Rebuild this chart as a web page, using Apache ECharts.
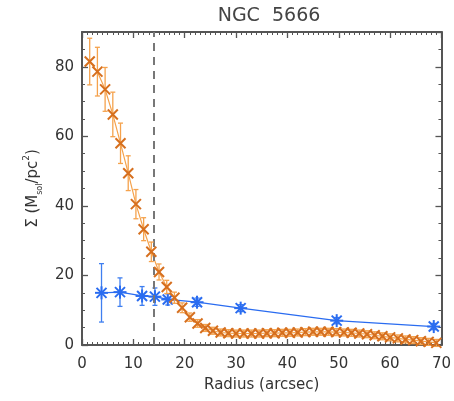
<!DOCTYPE html>
<html><head><meta charset="utf-8">
<script src="https://cdn.jsdelivr.net/npm/echarts@6/dist/echarts.min.js"></script>
<style>html,body{margin:0;padding:0;background:#fff}#c{width:454px;height:401px}</style>
</head><body><div id="c"></div>
<script>
const chartTitle = 'NGC  5666';
const xName = 'Radius (arcsec)';
const xMin = 0, xMax = 70, xMajor = 10, xMinor = 1;
const yMin = 0, yMax = 90, yMajor = 20, yMinor = 5;
const effectiveRadius = 14;

const orangeRadius = [1.5, 3, 4.5, 6, 7.5, 9, 10.5, 12, 13.5, 15, 16.5, 18, 19.5, 21, 22.5, 24, 25.5, 27, 28.5, 30,
  31.5, 33, 34.5, 36, 37.5, 39, 40.5, 42, 43.5, 45, 46.5, 48, 49.5, 51, 52.5, 54, 55.5, 57, 58.5, 60,
  61.5, 63, 64.5, 66, 67.5, 69];
const orangeSigma = [81.5, 78.6, 73.5, 66.3, 58.0, 49.4, 40.5, 33.3, 26.8, 21.0, 16.7, 13.6, 10.7, 8.0, 6.2, 4.9, 4.1, 3.6, 3.4, 3.3,
  3.3, 3.3, 3.3, 3.4, 3.4, 3.5, 3.5, 3.6, 3.7, 3.8, 3.8, 3.8, 3.7, 3.6, 3.5, 3.3, 3.1, 2.8, 2.5, 2.2,
  1.9, 1.6, 1.4, 1.1, 0.9, 0.6];
const orangeErr = [6.7, 7.0, 6.3, 6.4, 5.8, 5.0, 4.2, 3.3, 2.8, 2.3, 1.9, 1.6, 1.4, 1.2, 1.1, 1.0, 1.0, 1.0, 1.0, 1.0,
  1.0, 1.0, 1.0, 1.0, 1.0, 1.0, 1.0, 1.0, 1.0, 1.0, 1.0, 1.0, 1.0, 1.0, 1.0, 1.0, 1.0, 1.0, 1.0, 1.0,
  1.0, 1.0, 1.0, 1.0, 1.0, 1.0];

const blueRadius = [3.8, 7.4, 11.7, 14.2, 16.7, 22.4, 30.9, 49.6, 68.5];
const blueSigma  = [15.0, 15.2, 14.1, 13.9, 13.1, 12.3, 10.6, 7.0, 5.3];
const blueErr    = [8.4, 4.1, 2.7, 2.5, 1.6, 1.2, 1.0, 0.9, 0.9];

const orangeMark = '#D66F1E', orangeBar = '#F5A24C';
const blueMark = '#2A6CF0', blueBar = '#3F7FF0';
const axisColor = '#555';
const font = 'DejaVu Sans';

function zip3(a, b, c) { return a.map((v, i) => [v, b[i], c[i]]); }
function zip2(a, b) { return a.map((v, i) => [v, b[i]]); }

function makeRender(barColor, markColor, half, cap, star) {
  return function (params, api) {
    const x = api.value(0), y = api.value(1), e = api.value(2);
    const c = api.coord([x, y]), t = api.coord([x, y + e]), b = api.coord([x, y - e]);
    const ls = { stroke: barColor, lineWidth: 1.3, fill: null };
    const ms = { stroke: markColor, lineWidth: 2, fill: null };
    const ch = [
      { type: 'line', shape: { x1: c[0], y1: t[1], x2: c[0], y2: b[1] }, style: ls },
      { type: 'line', shape: { x1: c[0] - cap, y1: t[1], x2: c[0] + cap, y2: t[1] }, style: ls },
      { type: 'line', shape: { x1: c[0] - cap, y1: b[1], x2: c[0] + cap, y2: b[1] }, style: ls },
      { type: 'line', shape: { x1: c[0] - half, y1: c[1] - half, x2: c[0] + half, y2: c[1] + half }, style: ms },
      { type: 'line', shape: { x1: c[0] - half, y1: c[1] + half, x2: c[0] + half, y2: c[1] - half }, style: ms }
    ];
    if (star) {
      ch.push({ type: 'line', shape: { x1: c[0] - half * 1.3, y1: c[1], x2: c[0] + half * 1.3, y2: c[1] }, style: ms });
      ch.push({ type: 'line', shape: { x1: c[0], y1: c[1] - half * 1.3, x2: c[0], y2: c[1] + half * 1.3 }, style: ms });
    }
    return { type: 'group', children: ch };
  };
}

function xAxisDef(pos, labels, name) {
  return {
    type: 'value', position: pos, min: xMin, max: xMax, interval: xMajor,
    name: name, nameLocation: 'middle', nameGap: 33,
    nameTextStyle: { fontFamily: font, fontSize: 15, color: '#333' },
    axisLine: { show: true, onZero: false, lineStyle: { color: axisColor, width: 2 } },
    axisTick: { show: true, inside: true, length: 6, lineStyle: { color: axisColor, width: 1.3 } },
    minorTick: { show: true, splitNumber: xMajor / xMinor, length: 3, lineStyle: { color: axisColor, width: 1 } },
    axisLabel: { show: labels, fontFamily: font, fontSize: 15, color: '#333', margin: 12 },
    splitLine: { show: false }
  };
}
function yAxisDef(pos, step, tickLen, labels, line, name) {
  return {
    type: 'value', position: pos, min: yMin, max: yMax, interval: step,
    name: name || '', nameLocation: 'middle', nameGap: 37, nameRotate: 90,
    nameTextStyle: {
      fontFamily: font, fontSize: 15, color: '#333', lineHeight: 22,
      rich: {
        sub: { fontFamily: font, fontSize: 8, lineHeight: 8, verticalAlign: 'bottom', color: '#333' },
        sup: { fontFamily: font, fontSize: 9, lineHeight: 9, verticalAlign: 'top', color: '#333' }
      }
    },
    axisLine: { show: line, onZero: false, lineStyle: { color: axisColor, width: 2 } },
    axisTick: { show: true, inside: true, length: tickLen, lineStyle: { color: axisColor, width: tickLen > 4 ? 1.3 : 1 } },
    axisLabel: { show: labels, showMaxLabel: false, fontFamily: font, fontSize: 15, color: '#333', margin: 8 },
    splitLine: { show: false }
  };
}

const chart = echarts.init(document.getElementById('c'), null, { renderer: 'canvas' });
chart.setOption({
  animation: false,
  backgroundColor: '#fff',
  title: { text: chartTitle, left: 264, top: 2, textAlign: 'center',
    textStyle: { fontFamily: font, fontSize: 19, fontWeight: 'normal', color: '#444' } },
  grid: { left: 82, right: 8, top: 32, bottom: 56 },
  xAxis: [xAxisDef('bottom', true, xName), xAxisDef('top', false, '')],
  yAxis: [
    yAxisDef('left', yMajor, 6, true, true, 'Σ (M{sub|sol}/pc{sup|2})'),
    yAxisDef('left', yMinor, 3, false, false),
    yAxisDef('right', yMajor, 6, false, true),
    yAxisDef('right', yMinor, 3, false, false)
  ],
  series: [
    { type: 'line', data: [], z: 1, silent: true,
      markLine: { silent: true, symbol: 'none', label: { show: false },
        lineStyle: { color: '#777', type: [8, 6], width: 2 },
        data: [{ xAxis: effectiveRadius }] } },
    { type: 'line', data: zip2(blueRadius, blueSigma), showSymbol: false, z: 2,
      lineStyle: { color: blueMark, width: 1.3 } },
    { type: 'custom', data: zip3(blueRadius, blueSigma, blueErr), z: 3,
      encode: { x: 0, y: 1 }, renderItem: makeRender(blueBar, blueMark, 5, 2.5, true) },
    { type: 'line', data: zip2(orangeRadius, orangeSigma), showSymbol: false, z: 4,
      lineStyle: { color: orangeBar, width: 1.2 } },
    { type: 'custom', data: zip3(orangeRadius, orangeSigma, orangeErr), z: 5,
      encode: { x: 0, y: 1 }, renderItem: makeRender(orangeBar, orangeMark, 5, 2.5, false) }
  ]
});
</script></body></html>
